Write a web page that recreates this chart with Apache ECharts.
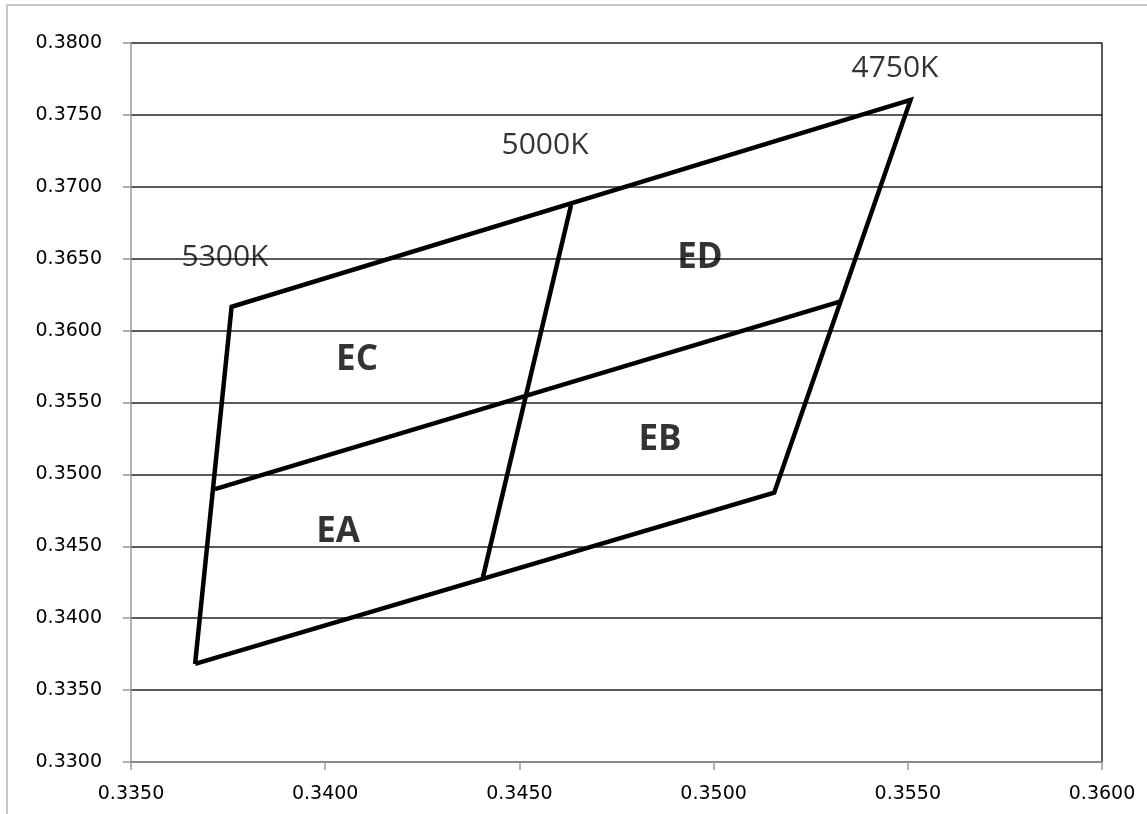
<!DOCTYPE html>
<html>
<head>
<meta charset="utf-8">
<script src="https://cdn.jsdelivr.net/npm/echarts@6/dist/echarts.min.js"></script>
<style>
html,body{margin:0;padding:0;background:#fff;}
#chart{width:1147px;height:814px;}
</style>
</head>
<body>
<div id="chart"></div>
<script>
// Outer quadrangle (x, y chromaticity)
const outlineX = [0.33665, 0.33759, 0.35507, 0.35156, 0.33665];
const outlineY = [0.33682, 0.36166, 0.37604, 0.34873, 0.33682];
// Dividing line across the middle
const midLineX = [0.33716, 0.35325];
const midLineY = [0.34898, 0.36201];
// Dividing line top to bottom
const splitLineX = [0.34406, 0.34633];
const splitLineY = [0.34284, 0.36873];
// Annotations
const cctLabels = ['4750K', '5000K', '5300K'];
const cctX = [0.35467, 0.34566, 0.33742];
const cctY = [0.37826, 0.37291, 0.36512];
const binLabels = ['ED', 'EC', 'EB', 'EA'];
const binX = [0.34965, 0.34082, 0.34862, 0.34033];
const binY = [0.36505, 0.35796, 0.35239, 0.34599];
// Axis ranges / ticks
const xMin = 0.335, xMax = 0.360, xStep = 0.005;
const yMin = 0.330, yMax = 0.380, yStep = 0.005;

const zip = (xs, ys) => xs.map((x, i) => [x, ys[i]]);
const chart = echarts.init(document.getElementById('chart'));
const labelFam = '"Open Sans", "DejaVu Sans", sans-serif';
const axisFam = '"DejaVu Sans", sans-serif';
const lineSeries = (xs, ys) => ({
  type: 'line', data: zip(xs, ys), symbol: 'none', silent: true,
  lineStyle: { color: '#000', width: 4.5, join: 'miter' }, z: 5
});
chart.setOption({
  animation: false,
  backgroundColor: '#fff',
  grid: { left: 131, top: 43, right: 45, bottom: 52 },
  graphic: [{
    type: 'rect', shape: { x: 7, y: 5, width: 1200, height: 900 },
    style: { fill: 'none', stroke: '#c8c8c8', lineWidth: 2 }, z: -1
  }],
  xAxis: {
    type: 'value', min: xMin, max: xMax, interval: xStep,
    axisLine: { show: true, onZero: false, lineStyle: { color: '#999', width: 1.5 } },
    axisTick: { show: true, length: 8, lineStyle: { color: '#999', width: 1.5 } },
    axisLabel: { color: '#000', fontFamily: axisFam, fontSize: 19, margin: 23,
      formatter: v => v.toFixed(4) },
    splitLine: { show: false }
  },
  yAxis: [{
    type: 'value', min: yMin, max: yMax, interval: yStep,
    axisLine: { show: true, onZero: false, lineStyle: { color: '#999', width: 1.5 } },
    axisTick: { show: true, length: 8, lineStyle: { color: '#999', width: 1.5 } },
    axisLabel: { color: '#000', fontFamily: axisFam, fontSize: 19, margin: 29,
      formatter: v => v.toFixed(4) },
    splitLine: { show: true, lineStyle: { color: '#222', width: 1.5 } }
  }, {
    type: 'value', position: 'right', min: yMin, max: yMax, interval: yStep,
    axisLine: { show: true, onZero: false, lineStyle: { color: '#222', width: 1.5 } },
    axisTick: { show: false }, axisLabel: { show: false }, splitLine: { show: false }
  }],
  series: [
    lineSeries(outlineX, outlineY),
    lineSeries(midLineX, midLineY),
    lineSeries(splitLineX, splitLineY),
    {
      type: 'scatter', symbolSize: 0, silent: true, z: 6,
      data: cctLabels.map((t, i) => ({ name: t, value: [cctX[i], cctY[i]] })),
      label: { show: true, position: 'inside', formatter: p => p.name,
        color: '#000', fontFamily: labelFam, fontSize: 30 }
    },
    {
      type: 'scatter', symbolSize: 0, silent: true, z: 6,
      data: binLabels.map((t, i) => ({ name: t, value: [binX[i], binY[i]] })),
      label: { show: true, position: 'inside', formatter: p => p.name,
        color: '#000', fontFamily: labelFam, fontSize: 35, fontWeight: 'bold' }
    }
  ]
});
</script>
</body>
</html>
